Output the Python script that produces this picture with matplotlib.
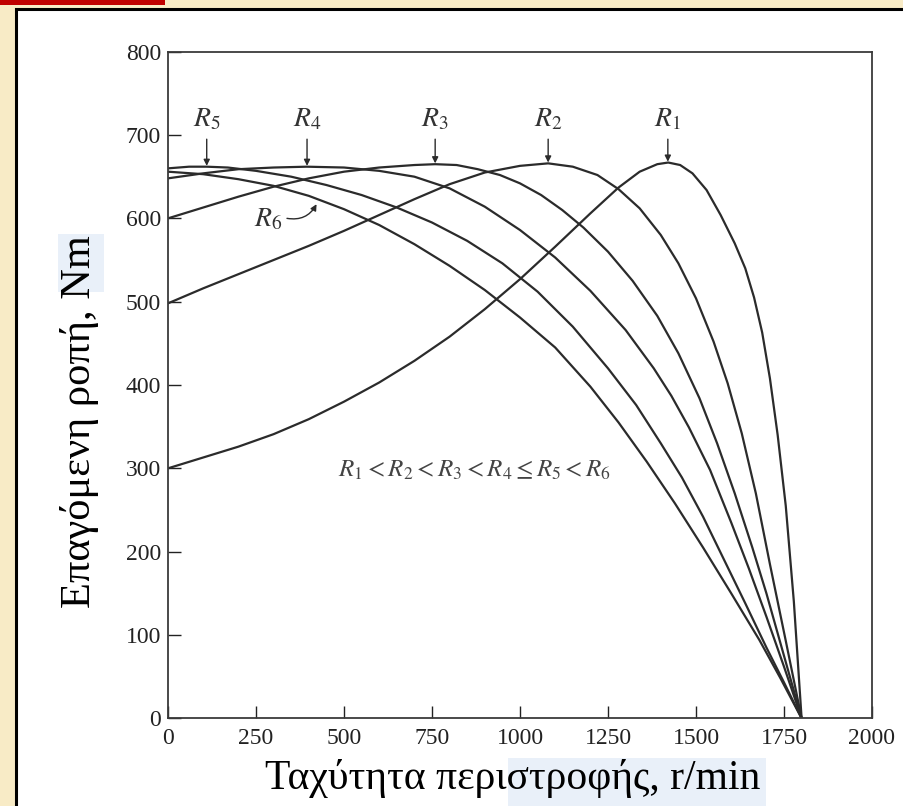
import matplotlib
matplotlib.use("Agg")
import matplotlib.pyplot as plt
from matplotlib.patches import Rectangle

plt.rcParams['font.family'] = ['Liberation Serif', 'DejaVu Serif']
plt.rcParams['mathtext.fontset'] = 'stix'

# torque-speed curves (speed r/min, torque Nm)
r1_speed = [0, 100, 200, 300, 400, 500, 600, 700, 800, 900, 1000, 1100, 1200, 1280, 1340, 1390, 1421,
            1455, 1490, 1530, 1570, 1610, 1640, 1665, 1688, 1710, 1732, 1755, 1778, 1800]
r1_torque = [300, 313, 326, 341, 359, 380, 403, 429, 458, 491, 527, 566, 606, 637, 656, 665, 667,
             664, 654, 634, 604, 570, 540, 505, 463, 408, 340, 255, 140, 0]

r2_speed = [0, 100, 200, 300, 400, 500, 600, 700, 800, 900, 1000, 1080, 1150, 1220, 1280, 1340, 1400,
            1450, 1500, 1550, 1590, 1630, 1670, 1710, 1755, 1800]
r2_torque = [498, 516, 533, 550, 567, 585, 604, 623, 641, 655, 663, 666, 662, 652, 635, 612, 580,
             546, 504, 452, 402, 342, 270, 185, 93, 0]

r3_speed = [0, 100, 200, 300, 400, 500, 600, 700, 759, 820, 880, 943, 1000, 1060, 1120, 1180, 1250,
            1320, 1390, 1450, 1510, 1560, 1610, 1660, 1700, 1750, 1800]
r3_torque = [600, 613, 626, 638, 648, 656, 661, 664, 665, 664, 659, 652, 642, 628, 610, 589, 560,
             525, 483, 438, 384, 330, 270, 205, 150, 75, 0]

r4_speed = [0, 100, 200, 300, 394, 500, 600, 700, 800, 900, 1000, 1100, 1200, 1300, 1380, 1430, 1480,
            1540, 1600, 1650, 1700, 1750, 1800]
r4_torque = [648, 654, 659, 661, 662, 661, 657, 650, 636, 614, 586, 553, 513, 466, 420, 387, 349,
             298, 235, 180, 122, 62, 0]

r5_speed = [0, 60, 110, 170, 250, 350, 450, 550, 650, 750, 850, 950, 1050, 1150, 1250, 1330, 1400,
            1460, 1520, 1580, 1640, 1700, 1750, 1800]
r5_torque = [660, 662, 662, 661, 657, 650, 640, 628, 613, 595, 573, 546, 512, 470, 420, 376, 330,
             289, 242, 190, 138, 85, 43, 0]

r6_speed = [0, 100, 200, 300, 400, 500, 600, 700, 800, 900, 1000, 1100, 1200, 1280, 1360, 1440, 1520,
            1600, 1680, 1740, 1800]
r6_torque = [656, 653, 647, 639, 627, 611, 592, 569, 543, 514, 481, 445, 398, 355, 308, 258, 205,
             150, 94, 48, 0]

# peak markers (arrows) and their labels
peak_labels = [r'$R_5$', r'$R_4$', r'$R_3$', r'$R_2$', r'$R_1$']
peak_speeds = [110, 395, 759, 1080, 1420]
peak_torques = [662, 662, 665, 666, 667]

x_ticks = [0, 250, 500, 750, 1000, 1250, 1500, 1750, 2000]
y_ticks = [0, 100, 200, 300, 400, 500, 600, 700, 800]

fig = plt.figure(figsize=(9.04, 8.06), dpi=100)
fig.patch.set_facecolor('#f8ebc6')

# white slide panel with black border, red bar in the corner
fig.patches.append(Rectangle((16 / 904, -0.01), 1.0, (806 - 9) / 806 + 0.01,
                             transform=fig.transFigure, facecolor='white',
                             edgecolor='black', linewidth=2.2, zorder=0))
fig.patches.append(Rectangle((0, (806 - 5) / 806), 165 / 904, 5 / 806,
                             transform=fig.transFigure, facecolor='#c00000',
                             edgecolor='none', zorder=1))
# light blue highlight behind parts of the axis labels
fig.patches.append(Rectangle((58 / 904, (806 - 292) / 806), 46 / 904, 58 / 806,
                             transform=fig.transFigure, facecolor='#e9f0f9',
                             edgecolor='none', zorder=1))
fig.patches.append(Rectangle((508 / 904, 0), 258 / 904, 48 / 806,
                             transform=fig.transFigure, facecolor='#e9f0f9',
                             edgecolor='none', zorder=1))

ax = fig.add_axes([168 / 904, (806 - 718.3) / 806, 704 / 904, 666.6 / 806])
ax.set_zorder(2)
ax.set_facecolor('white')

line_kw = dict(color='#2b2b2b', lw=1.6, solid_capstyle='round', solid_joinstyle='round')
for sp, tq in [(r1_speed, r1_torque), (r2_speed, r2_torque), (r3_speed, r3_torque),
               (r4_speed, r4_torque), (r5_speed, r5_torque), (r6_speed, r6_torque)]:
    ax.plot(sp, tq, **line_kw)

for lab, sx, ty in zip(peak_labels, peak_speeds, peak_torques):
    ax.annotate('', xy=(sx, ty + 1), xytext=(sx, 695),
                arrowprops=dict(arrowstyle='-|>', color='#2b2b2b', lw=1.0,
                                mutation_scale=9, shrinkA=0, shrinkB=0))
    ax.text(sx, 703, lab, ha='center', va='bottom', fontsize=20, color='#333333')

ax.text(285, 598, r'$R_6$', ha='center', va='center', fontsize=20, color='#333333')
ax.annotate('', xy=(422, 617), xytext=(338, 600),
            arrowprops=dict(arrowstyle='-|>', color='#2b2b2b', lw=1.0,
                            mutation_scale=9, shrinkA=0, shrinkB=0,
                            connectionstyle='arc3,rad=0.35'))

ax.text(872, 298, r'$R_1 < R_2 < R_3 < R_4 \leq R_5 < R_6$', ha='center', va='center',
        fontsize=18, color='#444444')

ax.set_xlim(0, 2000)
ax.set_ylim(0, 800)
ax.set_xticks(x_ticks)
ax.set_yticks(y_ticks)
ax.tick_params(axis='both', direction='in', labelsize=17, colors='#222222',
               width=1.0, length=9)
ax.tick_params(axis='x', pad=7)
ax.tick_params(axis='y', pad=5)
for sp in ax.spines.values():
    sp.set_linewidth(1.3)
    sp.set_color('#3a3a3a')

fig.text(80 / 904, 1 - 422 / 806, 'Επαγόμενη ροπή, Nm', rotation=90,
         ha='center', va='center', fontsize=30.5, color='black', zorder=3)
fig.text(513 / 904, 1 - 778 / 806, 'Ταχύτητα περιστροφής, r/min',
         ha='center', va='center', fontsize=30, color='black', zorder=3)

fig.savefig('out.png', dpi=100, facecolor=fig.get_facecolor())
